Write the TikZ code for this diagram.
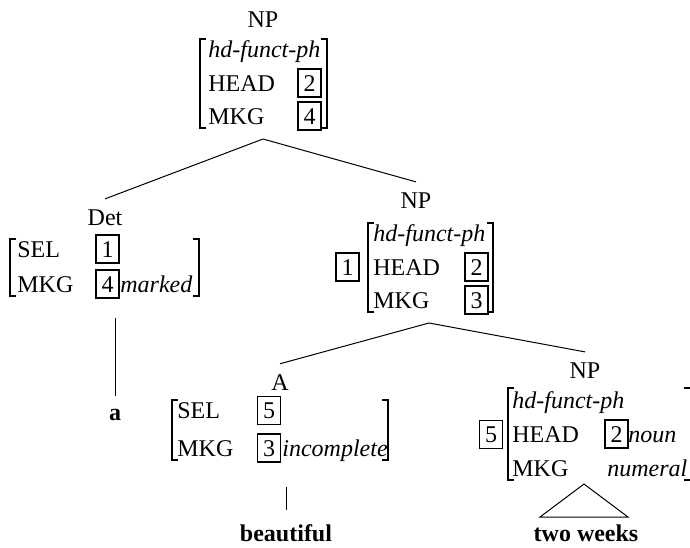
\documentclass[tikz,border=0pt]{standalone}
\usepackage{fontspec}
\setmainfont{Liberation Serif}
\begin{document}
\begin{tikzpicture}[x=0.5pt,y=-0.5pt,
  every node/.style={font=\fontsize{12}{14}\selectfont},
  txt/.style={inner sep=0pt, anchor=base west},
  cat/.style={inner sep=5pt, anchor=base},
  word/.style={inner sep=0pt, anchor=base, font=\fontsize{12}{14}\selectfont\bfseries},
  tag/.style={draw, line width=0.7pt, inner sep=0pt, minimum width=11.5pt, minimum height=14pt, anchor=base},
  brk/.style={line width=0.75pt},
  branch/.style={line width=0.5pt}]
\useasboundingbox (0,0) rectangle (690,547);

% ---------- top NP ----------
\node[cat] (np1) at (263,27) {NP};
\draw[brk] (206,39) -- (200,39) -- (200,128) -- (206,128);
\draw[brk] (321,39) -- (327,39) -- (327,128) -- (321,128);
\node[txt] (np1t) at (208,57) {\textit{hd-funct-ph}};
\node[txt] (np1h) at (208,91) {HEAD};
\node[tag] (np1hv) at (309.5,91) {2};
\node[txt] (np1m) at (208,124) {MKG};
\node[tag] (np1mv) at (309.5,124) {4};
\coordinate (np1apex) at (263,139);

% ---------- Det ----------
\node[cat] (det) at (105,225) {Det};
\draw[brk] (16,239) -- (10,239) -- (10,296) -- (16,296);
\draw[brk] (193,239) -- (199,239) -- (199,296) -- (193,296);
\node[txt] (dets) at (17,257) {SEL};
\node[tag] (detsv) at (107.5,257) {1};
\node[txt] (detm) at (17,292) {MKG};
\node[tag] (detmv) at (107.5,292) {4};
\node[txt] (detmk) at (120,292) {\textit{marked}};
\coordinate (detstem) at (115,318);
\node[word] (wa) at (115,420) {a};

% ---------- middle NP ----------
\node[cat] (np2) at (416,208) {NP};
\node[tag] (np2tag) at (347.5,275) {1};
\draw[brk] (374,223) -- (368,223) -- (368,312) -- (374,312);
\draw[brk] (487,223) -- (493,223) -- (493,312) -- (487,312);
\node[txt] (np2t) at (373,241) {\textit{hd-funct-ph}};
\node[txt] (np2h) at (373,275) {HEAD};
\node[tag] (np2hv) at (476.5,275) {2};
\node[txt] (np2m) at (373,308) {MKG};
\node[tag] (np2mv) at (476.5,308) {3};
\coordinate (np2apex) at (429,323);

% ---------- A ----------
\node[cat] (adj) at (280,390) {A};
\draw[brk] (178,400) -- (172,400) -- (172,460) -- (178,460);
\draw[brk] (382,400) -- (388,400) -- (388,460) -- (382,460);
\node[txt] (adjs) at (177,418) {SEL};
\node[tag] (adjsv) at (269,418) {5};
\node[txt] (adjm) at (177,456) {MKG};
\node[tag] (adjmv) at (269,456) {3};
\node[txt] (adjmk) at (282,456) {\textit{incomplete}};
\coordinate (adjstem) at (286,487);
\node[word] (wbeau) at (286,541) {beautiful};

% ---------- bottom NP ----------
\node[cat] (np3) at (585,378) {NP};
\node[tag] (np3tag) at (491,442) {5};
\draw[brk] (514,388) -- (508,388) -- (508,480) -- (514,480);
\draw[brk] (684,388) -- (690,388);
\draw[brk] (684,480) -- (690,480);
\node[txt] (np3t) at (512,408) {\textit{hd-funct-ph}};
\node[txt] (np3h) at (512,442) {HEAD};
\node[tag] (np3hv) at (616.5,442) {2};
\node[txt] (np3n) at (628,442) {\textit{noun}};
\node[txt] (np3m) at (512,476) {MKG};
\node[txt] (np3mv) at (607,476) {\textit{numeral}};
\coordinate (tri1) at (584,484);
\coordinate (tri2) at (540,517);
\coordinate (tri3) at (628,517);
\node[word] (wtwo) at (586,541) {two weeks};

% ---------- connectors ----------
\draw[branch] (np1apex) -- (det.north);
\draw[branch] (np1apex) -- (np2.north);
\draw[branch] (np2apex) -- (adj.north);
\draw[branch] (np2apex) -- (np3.north);
\draw[branch, shorten >=6pt] (detstem) -- (wa.north);
\draw[branch, shorten >=7pt] (adjstem) -- (wbeau.north);
\draw[branch] (tri1) -- (tri2) -- (tri3) -- cycle;
\end{tikzpicture}
\end{document}
